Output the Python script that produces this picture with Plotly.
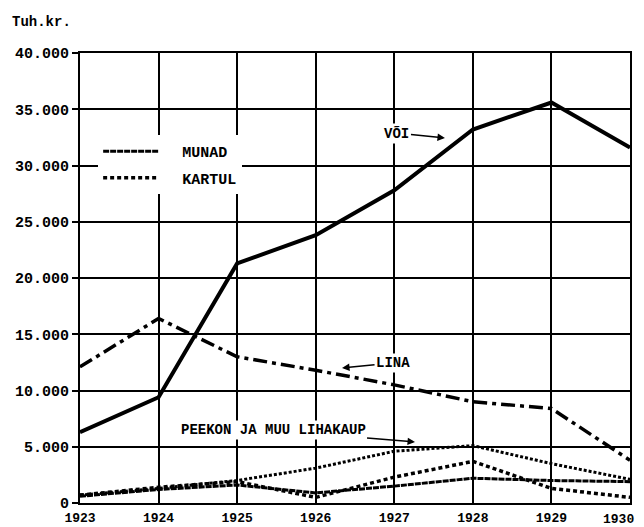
import plotly.graph_objects as go

years = [1923, 1924, 1925, 1926, 1927, 1928, 1929, 1930]
voi = [6300, 9400, 21300, 23800, 27800, 33200, 35600, 31600]
lina = [12100, 16400, 13000, 11800, 10500, 9000, 8400, 3800]
peekon = [700, 1300, 2000, 3100, 4600, 5100, 3500, 2100]
munad = [600, 1200, 1600, 900, 1500, 2200, 2000, 1900]
kartul = [700, 1400, 1900, 500, 2300, 3700, 1300, 500]

y_tickvals = [0, 5000, 10000, 15000, 20000, 25000, 30000, 35000, 40000]
y_ticktext = ["0", "5.000", "10.000", "15.000", "20.000", "25.000", "30.000", "35.000", "40.000"]
# last year label is drawn as an edge-anchored annotation so it is not clipped
x_ticktext = [str(y) for y in years[:-1]] + [""]

FONT = "Liberation Mono"
NB = "\u00a0\u00a0"

fig = go.Figure()
fig.add_trace(go.Scatter(x=years, y=voi, mode="lines", name="VÕI", showlegend=False,
                         line=dict(color="black", width=4)))
fig.add_trace(go.Scatter(x=years, y=lina, mode="lines", name="LINA", showlegend=False,
                         line=dict(color="black", width=3.5, dash="14px,5px,4px,5px")))
fig.add_trace(go.Scatter(x=years, y=peekon, mode="lines", name="PEEKON JA MUU LIHAKAUP", showlegend=False,
                         line=dict(color="black", width=3, dash="3px,2px")))
fig.add_trace(go.Scatter(x=years, y=munad, mode="lines", name=NB + "MUNAD", legendgroup="a",
                         line=dict(color="black", width=3, dash="6px,1px")))
fig.add_trace(go.Scatter(x=years, y=kartul, mode="lines", name=NB + "KARTUL", legendgroup="b",
                         line=dict(color="black", width=3.5, dash="4px,3px")))

# page body has an 8px margin: size the figure so the plot lands where the reference's does
fig.update_layout(
    width=636, height=519,
    margin=dict(l=72, r=14, t=45, b=24),
    paper_bgcolor="white", plot_bgcolor="white",
    font=dict(family=FONT, size=15, color="black", weight="bold"),
    showlegend=True,
    legend=dict(x=0.033, y=0.818, xanchor="left", yanchor="top",
                bgcolor="white", borderwidth=0, itemwidth=56,
                tracegroupgap=4, traceorder="grouped",
                font=dict(family=FONT, size=15, color="black", weight="bold")),
)

fig.update_xaxes(range=[1923, 1930], tickvals=years, ticktext=x_ticktext,
                 showgrid=True, gridcolor="black", gridwidth=2,
                 showline=True, linecolor="black", linewidth=2, mirror=True,
                 ticks="", zeroline=False, automargin=False, ticklabelstandoff=1,
                 ticklabeloverflow="allow",
                 tickfont=dict(family=FONT, size=13, color="black", weight="bold"))
fig.update_yaxes(range=[0, 40000], tickvals=y_tickvals, ticktext=y_ticktext,
                 showgrid=True, gridcolor="black", gridwidth=2,
                 showline=True, linecolor="black", linewidth=2, mirror=True,
                 ticks="outside", ticklen=6, tickwidth=2, tickcolor="black", zeroline=False,
                 automargin=False,
                 tickfont=dict(family=FONT, size=15, color="black", weight="bold"))

fig.add_annotation(text=str(years[-1]), xref="paper", yref="paper", x=1.0, y=0,
                   xanchor="right", yanchor="top", xshift=6, yshift=-7, showarrow=False,
                   font=dict(family=FONT, size=13, color="black", weight="bold"))
fig.add_annotation(text="Tuh.kr.", xref="paper", yref="paper", x=-0.127, y=1.069,
                   xanchor="left", yanchor="middle", showarrow=False,
                   font=dict(family=FONT, size=14, color="black", weight="bold"))
fig.add_annotation(text="VÕI", x=1927.645, y=32444, ax=-48, ay=-5,
                   showarrow=True, arrowhead=2, arrowsize=1, arrowwidth=1.5, arrowcolor="black",
                   bgcolor="white", font=dict(family=FONT, size=14, color="black", weight="bold"))
fig.add_annotation(text="LINA", x=1926.335, y=12000, ax=51, ay=-5,
                   showarrow=True, arrowhead=2, arrowsize=1, arrowwidth=1.5, arrowcolor="black",
                   bgcolor="white", font=dict(family=FONT, size=14, color="black", weight="bold"))
fig.add_annotation(text="PEEKON JA MUU LIHAKAUP", x=1927.264, y=5422, ax=-142, ay=-12,
                   showarrow=True, arrowhead=2, arrowsize=1, arrowwidth=1.5, arrowcolor="black",
                   bgcolor="white", font=dict(family=FONT, size=14, color="black", weight="bold"))

fig.write_html("out.html")
